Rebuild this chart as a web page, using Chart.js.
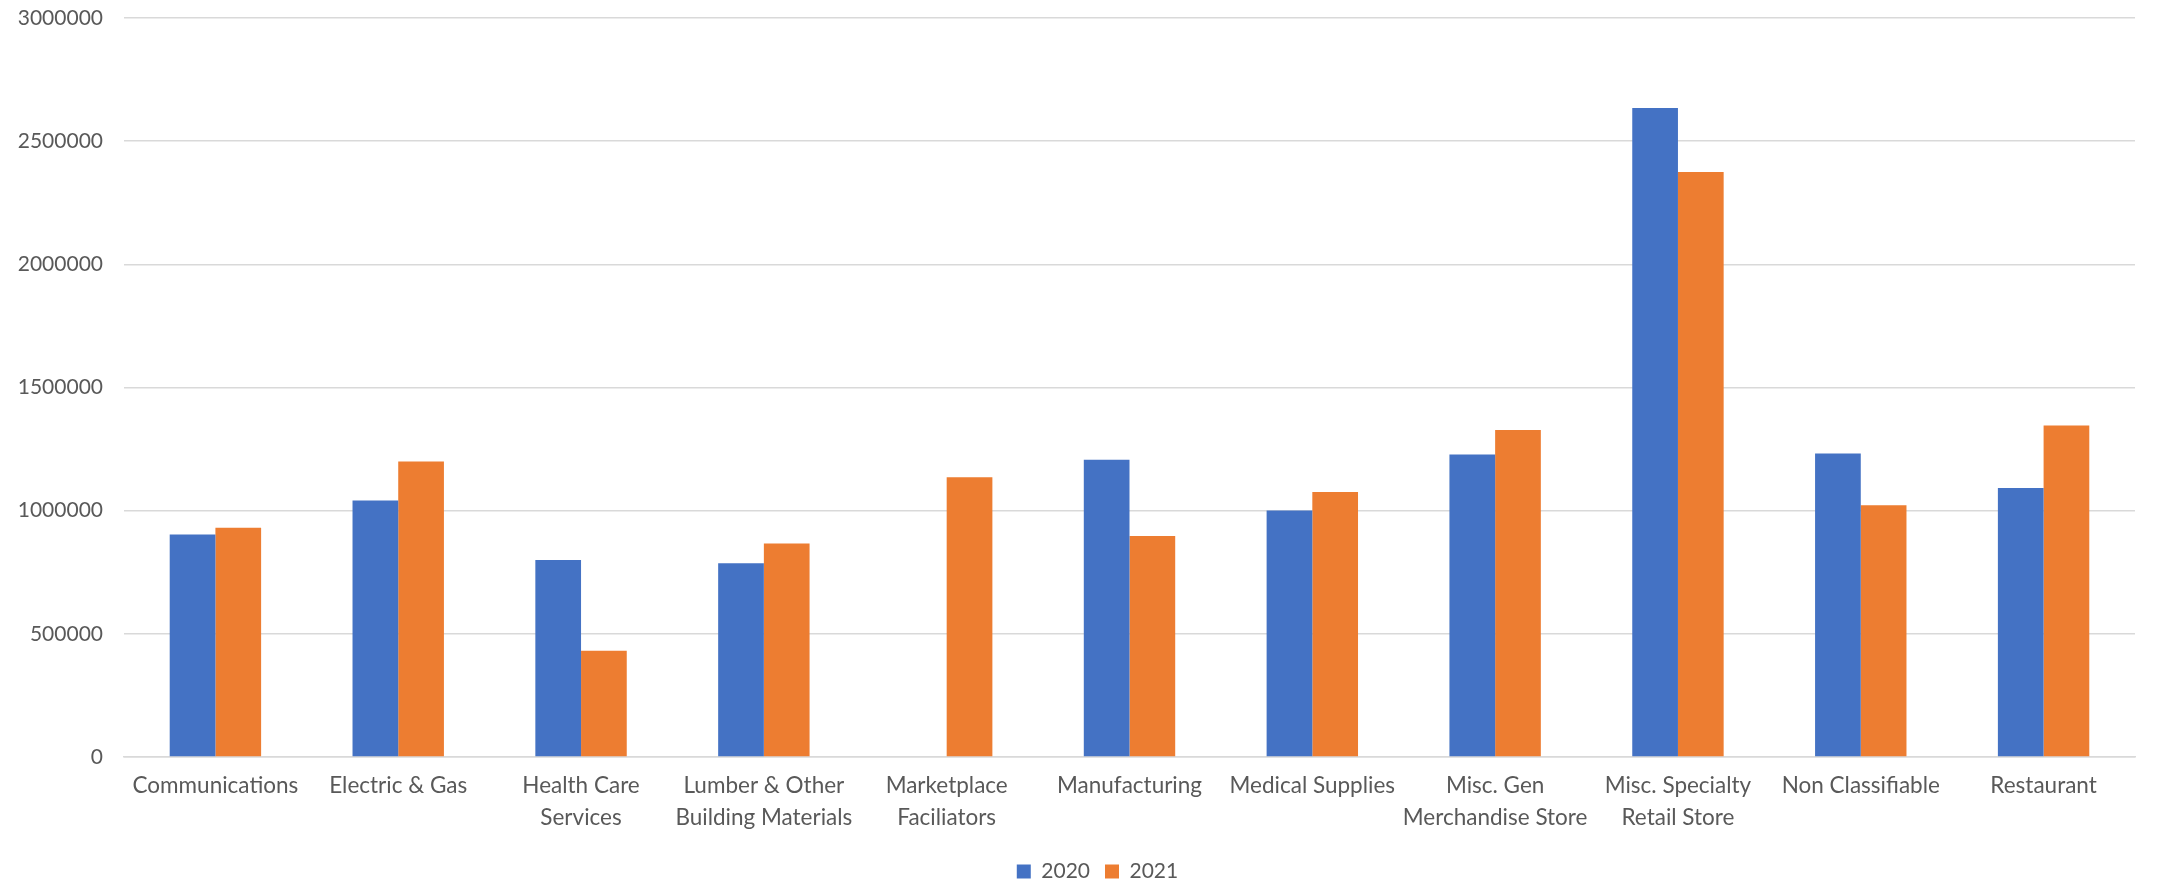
<!DOCTYPE html>
<html>
<head>
<meta charset="utf-8">
<script src="https://cdn.jsdelivr.net/npm/chart.js@4/dist/chart.umd.min.js"></script>
<style>
    html, body { margin: 0; padding: 0; background: #fff; }
    #wrap { width: 2164px; height: 881px; }
</style>
</head>
<body>
<div id="wrap"><canvas id="salesChart" width="2164" height="881"></canvas></div>
<script>
// 数据：按类别的两年数值
const categories = [
    'Communications',
    'Electric & Gas',
    ['Health Care', 'Services'],
    ['Lumber & Other', 'Building Materials'],
    ['Marketplace', 'Faciliators'],
    'Manufacturing',
    'Medical Supplies',
    ['Misc. Gen', 'Merchandise Store'],
    ['Misc. Specialty', 'Retail Store'],
    'Non Classifiable',
    'Restaurant'
];
const values2020 = [903000, 1041000, 800000, 787000, null, 1207000, 1001000, 1228000, 2635000, 1232000, 1092000];
const values2021 = [931000, 1200000, 431000, 867000, 1136000, 897000, 1076000, 1327000, 2375000, 1022000, 1346000];
const yTicks = [0, 500000, 1000000, 1500000, 2000000, 2500000, 3000000];

const TEXT = '#595959';
const GRID = '#D9D9D9';
const FONT = 'Lato, "Open Sans", sans-serif';

const ctx = document.getElementById('salesChart').getContext('2d');
new Chart(ctx, {
    type: 'bar',
    data: {
        labels: categories,
        datasets: [
            { label: '2020', data: values2020, backgroundColor: '#4472C4', categoryPercentage: 0.5, barPercentage: 1 },
            { label: '2021', data: values2021, backgroundColor: '#ED7D31', categoryPercentage: 0.5, barPercentage: 1 }
        ]
    },
    options: {
        responsive: false,
        animation: false,
        // 右侧负 padding 只用来把图例中心往右挪；绘图区右边距由 x 轴 paddingRight 决定
        // 底部负 padding 让图例贴近画布底部
        layout: { padding: { top: 18, right: -31, bottom: -11, left: 0 } },
        plugins: {
            tooltip: { enabled: false },
            legend: {
                position: 'bottom',
                labels: { color: TEXT, font: { family: FONT, size: 21 }, boxWidth: 14, boxHeight: 14, padding: 15 }
            }
        },
        scales: {
            x: {
                grid: { display: false },
                border: { color: GRID, width: 1.5 },
                ticks: { color: TEXT, font: { family: FONT, size: 22.5, lineHeight: 1.4 }, padding: 5, maxRotation: 0, autoSkip: false },
                afterFit(scale) {
                    scale.height = 89;
                    scale.paddingRight = 29;
                }
            },
            y: {
                min: 0,
                max: 3000000,
                border: { display: false },
                grid: { color: GRID, lineWidth: 1.5, drawTicks: false },
                afterBuildTicks(scale) { scale.ticks = yTicks.map(v => ({ value: v })); },
                ticks: { color: TEXT, font: { family: FONT, size: 21 }, padding: 21, callback: v => String(v) },
                afterFit(scale) {
                    scale.width = 124;
                    // 不让刻度文字撑大上下边距
                    scale.paddingTop = 0;
                    scale.paddingBottom = 0;
                }
            }
        }
    }
});
</script>
</body>
</html>
